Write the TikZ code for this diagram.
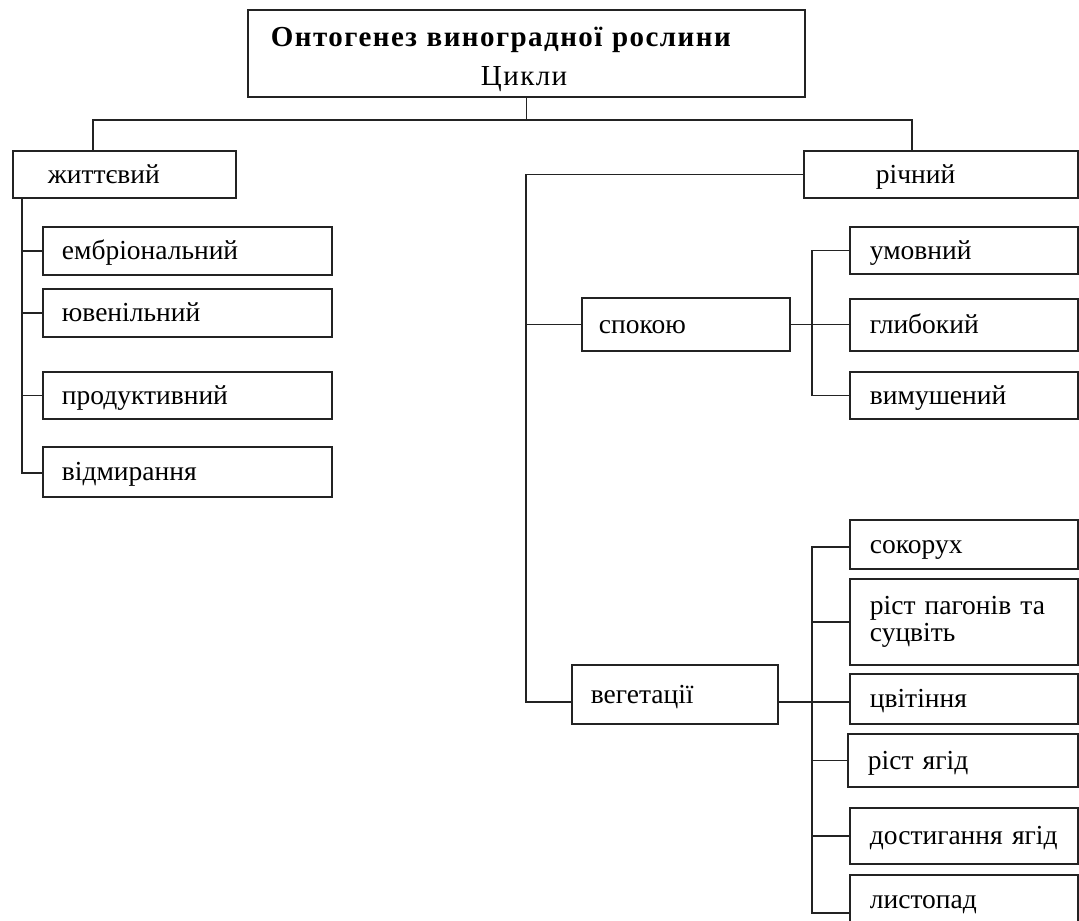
\documentclass[tikz,border=0pt]{standalone}
\usepackage{fontspec}
\setmainfont{Liberation Serif}
\definecolor{lc}{RGB}{35,35,35}
\begin{document}
\begin{tikzpicture}[x=1pt,y=-1pt,
  ln/.style={line width=1.8pt, draw=lc},
  bxbase/.style={draw=lc, line width=1.8pt, anchor=north west, align=left,
    inner ysep=0pt, font=\fontsize{27.5}{27}\selectfont},
  bx/.style={bxbase, text height=18pt, text depth=0pt},
  leftc/.style={bx, inner xsep=19pt, text width=251pt, minimum width=289pt},
  rightc/.style={bx, inner xsep=20pt, text width=188pt, minimum width=228pt},
]
\useasboundingbox (0,0) rectangle (1079,921);
\fill[white] (0,0) rectangle (1079,921);

% top
\node[bxbase, inner xsep=23pt, text width=511pt, minimum height=87pt,
  font=\fontsize{29}{39}\selectfont] (top) at (247,9)
  {{\bfseries\addfontfeature{LetterSpace=5}\rule{0pt}{31pt}Онтогенез виноградної рослини}\\\hspace*{210pt}{\addfontfeature{LetterSpace=5}Цикли}};

% level 1
\node[bx, inner xsep=35pt, text width=153pt, minimum height=47pt] (zhit) at (12,150) {життєвий};
\node[bx, inner xsep=72pt, text width=130pt, minimum height=47pt] (rich) at (803,150) {річний};

% life cycle
\node[leftc, minimum height=48pt] (emb) at (42,226) {ембріональний};
\node[leftc, minimum height=48pt] (juv) at (42,288) {ювенільний};
\node[leftc, minimum height=47pt] (prod) at (42,371) {продуктивний};
\node[leftc, minimum height=50pt] (vidm) at (42,446) {відмирання};

% annual cycle
\node[bx, inner xsep=17pt, text width=174pt, minimum height=53pt] (spok) at (581,297) {спокою};
\node[bx, inner xsep=19pt, text width=168pt, minimum height=59pt] (veg) at (571,664) {вегетації};

\node[rightc, minimum height=47pt] (umov) at (849,226) {умовний};
\node[rightc, minimum height=52pt] (hlyb) at (849,298) {глибокий};
\node[rightc, minimum height=47pt] (vymu) at (849,371) {вимушений};

\node[rightc, minimum height=49pt] (sok) at (849,519) {сокорух};
\node[bxbase, inner xsep=20pt, text width=188pt, minimum width=228pt, minimum height=86pt] (rpag) at (849,578) {ріст пагонів та\\суцвіть};
\node[rightc, minimum height=50pt] (tsv) at (849,673) {цвітіння};
\node[rightc, minimum height=53pt, minimum width=230pt, text width=190pt] (rya) at (847,733) {ріст ягід};
\node[rightc, minimum height=56pt] (dost) at (849,807) {\mbox{достигання ягід}};
\node[rightc, minimum height=50pt] (lyst) at (849,874) {листопад};

% connectors
\coordinate (bL) at (93,120);
\coordinate (bR) at (912,120);
\draw[ln] (top.south) -- (top.south |- bL);
\draw[ln] (bL |- zhit.north) -- (bL) -- (bR) -- (bR |- rich.north);

\coordinate (lt) at (22,473);
\draw[ln] (lt |- zhit.south) -- (lt) -- (vidm.west |- lt);
\foreach \n in {emb,juv,prod} \draw[ln] (lt |- \n.west) -- (\n.west);

\coordinate (mt) at (526,702);
\draw[ln] (rich.west) -- (mt |- rich.west) -- (mt) -- (veg.west |- mt);
\draw[ln] (mt |- spok.west) -- (spok.west);

\coordinate (s1) at (812,0);
\draw[ln] (umov.west) -- (s1 |- umov.west) -- (s1 |- vymu.west) -- (vymu.west);
\draw[ln] (spok.east) -- (hlyb.west |- spok.east);

\coordinate (v1) at (812,547);
\coordinate (v6) at (812,913);
\draw[ln] (sok.west |- v1) -- (v1) -- (v6) -- (lyst.west |- v6);
\draw[ln] (veg.east |- mt) -- (tsv.west |- mt);
\draw[ln] (s1 |- rpag.west) -- (rpag.west);
\draw[ln] (s1 |- rya.west) -- (rya.west);
\draw[ln] (s1 |- dost.west) -- (dost.west);
\end{tikzpicture}
\end{document}
